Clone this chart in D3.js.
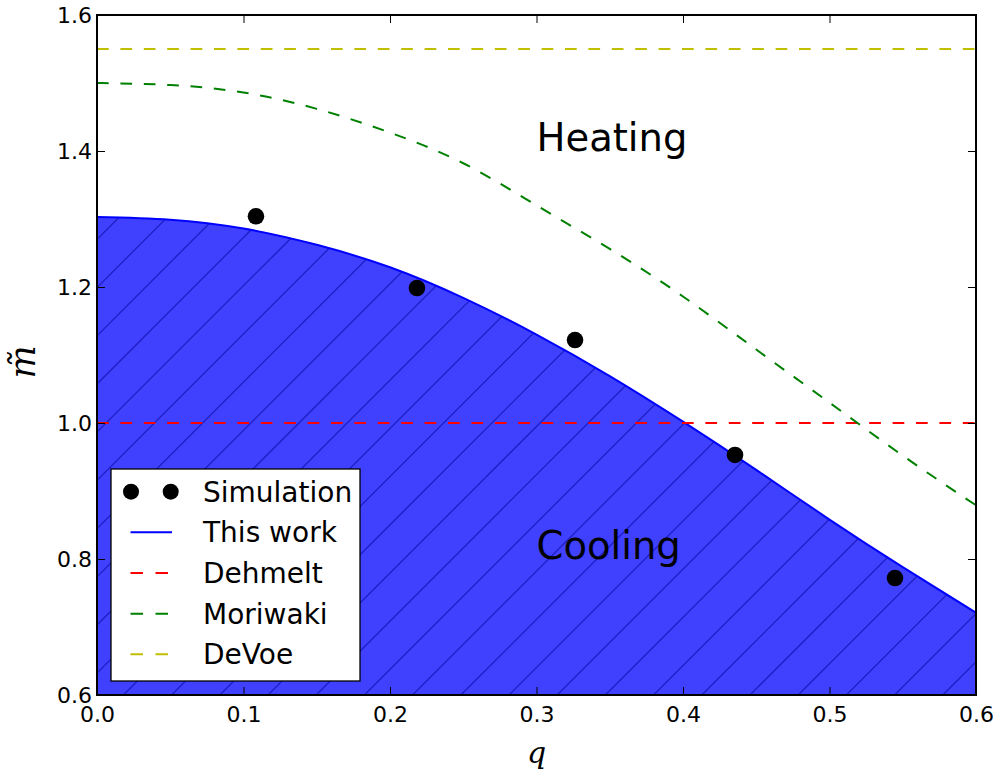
<!DOCTYPE html>
<html>
<head>
<meta charset="utf-8">
<script src="https://cdn.jsdelivr.net/npm/d3@7"></script>
<style>
  body { margin: 0; background: #fff; }
  text { font-family: "DejaVu Sans", sans-serif; fill: #000; }
  .tick text { font-size: 22px; }
  .legend text { font-size: 28px; }
  .region { font-size: 38.5px; }
  .math { font-family: "DejaVu Serif", serif; font-style: italic; font-size: 30px; }
  .ylab { font-size: 35px; }
</style>
</head>
<body>
<svg width="1000" height="778"></svg>
<script>
// values
const qGrid = [0, 0.05, 0.10, 0.15, 0.20, 0.25, 0.30, 0.35, 0.40, 0.45, 0.50, 0.55, 0.60];
const thisWork = [1.303, 1.299, 1.286, 1.262, 1.229, 1.184, 1.130, 1.069, 1.002, 0.931, 0.858, 0.788, 0.721];
const moriwaki = [1.500, 1.497, 1.486, 1.462, 1.427, 1.382, 1.320, 1.256, 1.186, 1.108, 1.030, 0.952, 0.879];
const dehmelt = [1.0, 1.0];
const devoe = [1.55, 1.55];
const flatQ = [0, 0.6];
const simQ = [0.1085, 0.2184, 0.3263, 0.4355, 0.5447];
const simM = [1.304, 1.1985, 1.122, 0.953, 0.772];
const xTicks = [0, 0.1, 0.2, 0.3, 0.4, 0.5, 0.6];
const yTicks = [0.6, 0.8, 1.0, 1.2, 1.4, 1.6];
const legendNames = ['Simulation', 'This work', 'Dehmelt', 'Moriwaki', 'DeVoe'];

const svg = d3.select('svg');
const margin = {top: 15, right: 24, bottom: 83, left: 97};
const W = 1000, H = 778;
const x = d3.scaleLinear().domain([0, 0.6]).range([margin.left, W - margin.right]);
const y = d3.scaleLinear().domain([0.6, 1.6]).range([H - margin.bottom, margin.top]);

const blue = '#0000ff', red = '#ff0000', green = '#008000', yellow = '#bfbf00';
const dash = '11.7,11.7';

const toPts = (qs, ms) => qs.map((q, i) => [q, ms[i]]);
const line = d3.line().x(d => x(d[0])).y(d => y(d[1])).curve(d3.curveNatural);
const area = d3.area().x(d => x(d[0])).y0(y(0.6)).y1(d => y(d[1])).curve(d3.curveNatural);

const defs = svg.append('defs');
defs.append('clipPath').attr('id', 'plotclip')
    .append('rect')
    .attr('x', x(0)).attr('y', y(1.6))
    .attr('width', x(0.6) - x(0)).attr('height', y(0.6) - y(1.6));
defs.append('clipPath').attr('id', 'areaclip')
    .append('path')
    .attr('d', area(toPts(qGrid, thisWork)));

const plot = svg.append('g').attr('clip-path', 'url(#plotclip)');

// cooling region
plot.append('path')
    .attr('d', area(toPts(qGrid, thisWork)))
    .attr('fill', 'rgb(64,64,255)');

// hatch '/'
const hatch = plot.append('g').attr('clip-path', 'url(#areaclip)');
const y0 = y(0.6), y1 = y(1.6);
const step = 48.2;
for (let c = 1445 - step * 30; c < 1445 + step * 30; c += step) {
  hatch.append('line')
      .attr('x1', c - y0).attr('y1', y0)
      .attr('x2', c - y1).attr('y2', y1)
      .attr('stroke', '#1e1ec4')
      .attr('stroke-width', 1.3);
}

plot.append('path').datum(toPts(qGrid, thisWork))
    .attr('d', line).attr('fill', 'none')
    .attr('stroke', blue).attr('stroke-width', 2);
plot.append('path').datum(toPts(flatQ, dehmelt))
    .attr('d', line).attr('fill', 'none')
    .attr('stroke', red).attr('stroke-width', 2).attr('stroke-dasharray', dash);
plot.append('path').datum(toPts(qGrid, moriwaki))
    .attr('d', line).attr('fill', 'none')
    .attr('stroke', green).attr('stroke-width', 2).attr('stroke-dasharray', dash);
plot.append('path').datum(toPts(flatQ, devoe))
    .attr('d', line).attr('fill', 'none')
    .attr('stroke', yellow).attr('stroke-width', 2).attr('stroke-dasharray', dash);

plot.selectAll('circle.sim')
    .data(toPts(simQ, simM))
    .enter().append('circle')
    .attr('class', 'sim')
    .attr('cx', d => x(d[0]))
    .attr('cy', d => y(d[1]))
    .attr('r', 8.3)
    .attr('fill', '#000');

// region labels
svg.append('text').attr('class', 'region')
    .attr('x', x(0.3)).attr('y', y(1.4)).text('Heating');
svg.append('text').attr('class', 'region')
    .attr('x', x(0.3)).attr('y', y(0.8)).text('Cooling');

// axes, ticks inward on all four sides
const fmt = d3.format('.1f');
const styleAxis = g => {
  g.select('.domain').remove();
  g.selectAll('.tick line').attr('stroke', '#000').attr('stroke-width', 1);
};
svg.append('g').attr('transform', `translate(0,${y(0.6)})`)
    .call(d3.axisBottom(x).tickValues(xTicks).tickFormat(fmt).tickSizeInner(-8).tickSizeOuter(0).tickPadding(11))
    .call(styleAxis);
svg.append('g').attr('transform', `translate(0,${y(1.6)})`)
    .call(d3.axisTop(x).tickValues(xTicks).tickFormat('').tickSizeInner(-8).tickSizeOuter(0))
    .call(styleAxis);
svg.append('g').attr('transform', `translate(${x(0)},0)`)
    .call(d3.axisLeft(y).tickValues(yTicks).tickFormat(fmt).tickSizeInner(-8).tickSizeOuter(0).tickPadding(5))
    .call(styleAxis);
svg.append('g').attr('transform', `translate(${x(0.6)},0)`)
    .call(d3.axisRight(y).tickValues(yTicks).tickFormat('').tickSizeInner(-8).tickSizeOuter(0))
    .call(styleAxis);
svg.selectAll('.tick text').attr('font-family', null).attr('font-size', null);

svg.append('rect')
    .attr('x', x(0)).attr('y', y(1.6))
    .attr('width', x(0.6) - x(0)).attr('height', y(0.6) - y(1.6))
    .attr('fill', 'none').attr('stroke', '#000').attr('stroke-width', 2);

// axis labels
svg.append('text').attr('class', 'math')
    .attr('x', x(0.3)).attr('y', 763)
    .attr('text-anchor', 'middle').text('q');
svg.append('text').attr('class', 'math ylab')
    .attr('transform', `translate(35,${y(1.09)}) rotate(-90)`)
    .attr('text-anchor', 'middle').text('m\u0303');

// legend
const lg = svg.append('g').attr('class', 'legend');
lg.append('rect')
    .attr('x', 111).attr('y', 469).attr('width', 249).attr('height', 212)
    .attr('fill', '#fff').attr('stroke', '#000').attr('stroke-width', 1.3);
const rowY = i => 491.7 + i * 40.65;
const legendStyles = [
  {type: 'dots'},
  {type: 'line', color: blue},
  {type: 'dash', color: red},
  {type: 'dash', color: green},
  {type: 'dash', color: yellow}
];
legendNames.forEach((name, i) => {
  const s = legendStyles[i];
  const cy = rowY(i);
  if (s.type === 'dots') {
    [131, 170.7].forEach(cx => lg.append('circle')
        .attr('cx', cx).attr('cy', cy).attr('r', 8).attr('fill', '#000'));
  } else {
    lg.append('line')
        .attr('x1', 130.5).attr('x2', 172).attr('y1', cy).attr('y2', cy)
        .attr('stroke', s.color).attr('stroke-width', 2)
        .attr('stroke-dasharray', s.type === 'dash' ? '12.5,12.5' : null);
  }
  lg.append('text').attr('x', 203).attr('y', cy + 10).text(name);
});
</script>
</body>
</html>
